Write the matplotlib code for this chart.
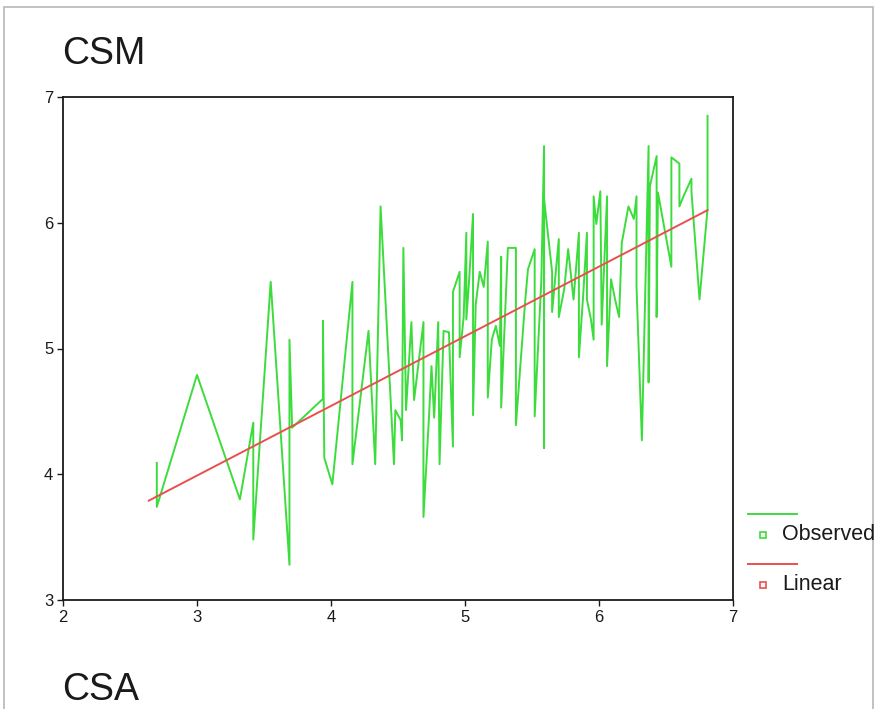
import matplotlib
matplotlib.use('Agg')
import matplotlib.pyplot as plt
from matplotlib.lines import Line2D
from matplotlib.patches import Rectangle

plt.rcParams['font.family'] = ['Liberation Sans', 'DejaVu Sans']

# Observed values (sorted by x, as plotted by the curve-estimation output)
obs_x = [2.70, 2.70, 3.00, 3.32, 3.42, 3.42, 3.55, 3.69, 3.69, 3.71,
         3.94, 3.94, 3.95, 4.01, 4.16, 4.16, 4.28, 4.33, 4.37, 4.47,
         4.48, 4.52, 4.53, 4.54, 4.56, 4.60, 4.62, 4.69, 4.69, 4.73,
         4.75, 4.77, 4.80, 4.81, 4.84, 4.88, 4.91, 4.91, 4.96, 4.96,
         4.99, 5.01, 5.01, 5.03, 5.06, 5.06, 5.08, 5.11, 5.14, 5.17,
         5.17, 5.20, 5.23, 5.26, 5.27, 5.27, 5.32, 5.38, 5.38, 5.45,
         5.47, 5.52, 5.52, 5.57, 5.59, 5.59, 5.59, 5.65, 5.65, 5.70,
         5.70, 5.74, 5.77, 5.81, 5.85, 5.85, 5.88, 5.91, 5.91, 5.94,
         5.96, 5.96, 5.98, 6.01, 6.02, 6.06, 6.06, 6.09, 6.12, 6.15,
         6.17, 6.22, 6.26, 6.28, 6.28, 6.32, 6.37, 6.37, 6.38, 6.43,
         6.43, 6.44, 6.54, 6.54, 6.60, 6.60, 6.63, 6.69, 6.69, 6.75,
         6.81, 6.81]
obs_y = [4.09, 3.74, 4.79, 3.80, 4.41, 3.48, 5.53, 3.28, 5.07, 4.37,
         4.60, 5.22, 4.13, 3.92, 5.53, 4.08, 5.14, 4.08, 6.13, 4.08,
         4.51, 4.43, 4.27, 5.80, 4.51, 5.21, 4.59, 5.21, 3.66, 4.43,
         4.86, 4.45, 5.21, 4.08, 5.14, 5.13, 4.22, 5.45, 5.61, 4.93,
         5.25, 5.92, 5.23, 5.53, 6.07, 4.47, 5.35, 5.61, 5.49, 5.85,
         4.61, 5.07, 5.18, 5.02, 5.73, 4.53, 5.80, 5.80, 4.39, 5.39,
         5.63, 5.79, 4.46, 5.55, 6.61, 4.21, 6.19, 5.61, 5.29, 5.87,
         5.25, 5.47, 5.79, 5.39, 5.92, 4.93, 5.39, 5.92, 5.39, 5.23,
         5.07, 6.21, 5.99, 6.25, 5.19, 6.21, 4.86, 5.55, 5.39, 5.25,
         5.84, 6.13, 6.03, 6.21, 5.49, 4.27, 6.61, 4.73, 6.29, 6.53,
         5.25, 6.24, 5.65, 6.52, 6.47, 6.13, 6.21, 6.35, 6.25, 5.39,
         6.11, 6.85]

# Linear fit, read at its two ends
lin_x = [2.64, 6.81]
lin_y = [3.79, 6.10]

x_ticks = [2, 3, 4, 5, 6, 7]
y_ticks = [3, 4, 5, 6, 7]

green = '#3ddc3d'
red = '#e8504f'
ink = '#1a1a1a'

W, H = 880, 709
fig = plt.figure(figsize=(W / 100, H / 100), dpi=100)
fig.patch.set_facecolor('white')

# grey frame round the picture
fig.add_artist(Rectangle((4 / W, -0.01), (873 - 4) / W, 1 - 7 / H + 0.01,
                         transform=fig.transFigure, fill=False,
                         edgecolor='#b8b8b8', linewidth=1.2))

ax = fig.add_axes([63 / W, 1 - 600 / H, (733 - 63) / W, (600 - 97) / H])
ax.plot(obs_x, obs_y, color=green, linewidth=1.4)
ax.plot(lin_x, lin_y, color=red, linewidth=1.4)

ax.set_xlim(2, 7)
ax.set_ylim(3, 7)
ax.set_xticks(x_ticks)
ax.set_yticks(y_ticks)
ax.tick_params(labelsize=12, length=4, width=1, direction='out', pad=3,
               colors=ink)
for s in ax.spines.values():
    s.set_linewidth(1.3)
    s.set_color(ink)

fig.text(62 / W, 1 - 54 / H, 'CSM', fontsize=27, va='center', ha='left', color=ink)
fig.text(62 / W, 1 - 690 / H, 'CSA', fontsize=27, va='center', ha='left', color=ink)

# SPSS-style legend at the right
for y_line, y_mark, col, label in [(514, 535, green, 'Observed'),
                                   (564, 585, red, 'Linear')]:
    fig.add_artist(Line2D([748 / W, 797 / W], [1 - y_line / H, 1 - y_line / H],
                          color=col, linewidth=1.4, transform=fig.transFigure))
    fig.add_artist(Line2D([763 / W], [1 - y_mark / H], marker='s', markersize=4,
                          markerfacecolor='white', markeredgecolor=col,
                          markeredgewidth=1.2, linestyle='none',
                          transform=fig.transFigure))
    fig.text(782 / W, 1 - y_mark / H, label, fontsize=15.5, va='center',
             ha='left', color=ink)

fig.savefig('out.png', dpi=100)
